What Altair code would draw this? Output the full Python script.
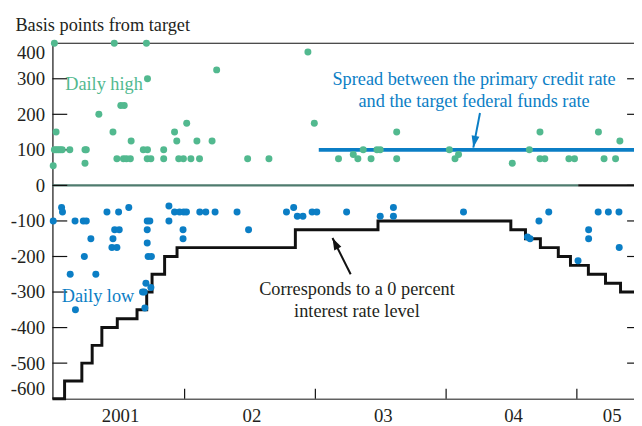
import altair as alt
import pandas as pd

# ---------------- data (x in decimal years, y in basis points from target) -------------
high_x = [2001.004, 2001.017, 2000.995, 2001.004, 2001.019, 2001.034, 2001.049, 2001.064,
          2001.122, 2001.238, 2001.248, 2001.238, 2001.344, 2001.462, 2001.452, 2001.482,
          2001.532, 2001.555, 2001.585, 2001.512, 2001.538, 2001.591, 2001.708, 2001.716,
          2001.684, 2001.716, 2001.714, 2001.742, 2001.840, 2001.840, 2001.923, 2001.940,
          2002.016, 2001.955, 2001.991, 2002.048, 2002.094, 2002.114, 2002.210, 2002.245,
          2002.482, 2002.645, 2002.943, 2002.992, 2003.177, 2003.290, 2003.325, 2003.366,
          2003.426, 2003.471, 2003.496, 2003.622, 2003.622, 2004.025, 2004.068, 2004.095,
          2004.506, 2004.637, 2004.718, 2004.718, 2004.755, 2004.939, 2004.982, 2005.165,
          2005.208, 2005.296, 2005.329]
high_y = [400, 150, 55, 100, 100, 100, 100, 100,
          100, 100, 100, 62, 200, 400, 150, 75,
          75, 75, 75, 225, 225, 125, 400, 300,
          100, 100, 75, 75, 100, 75, 150, 125,
          175, 75, 75, 75, 125, 75, 125, 325,
          75, 75, 375, 175, 75, 87, 75, 100,
          75, 100, 100, 150, 75, 100, 75, 87,
          62, 100, 150, 75, 75, 75, 75, 150,
          75, 75, 125]

low_x = [2000.995, 2001.059, 2001.066, 2001.125, 2001.162, 2001.165, 2001.225, 2001.248,
         2001.233, 2001.283, 2001.321, 2001.406, 2001.452, 2001.444, 2001.482, 2001.465,
         2001.500, 2001.495, 2001.573, 2001.696, 2001.678, 2001.691, 2001.704, 2001.742,
         2001.714, 2001.734, 2001.714, 2001.714, 2001.721, 2001.746, 2001.880, 2001.880,
         2001.923, 2001.961, 2001.993, 2002.014, 2001.988, 2001.988, 2002.116, 2002.162,
         2002.233, 2002.401, 2002.489, 2002.779, 2002.834, 2002.862, 2002.905, 2002.975,
         2003.011, 2003.239, 2003.496, 2003.597, 2003.597, 2004.133, 2004.622, 2004.642,
         2004.710, 2004.785, 2005.009, 2005.090, 2005.090, 2005.163, 2005.241, 2005.322,
         2005.324]
low_y = [-100, -62, -75, -250, -100, -350, -100, -100,
         -200, -150, -250, -75, -150, -175, -175, -125,
         -125, -75, -62, -345, -300, -300, -275, -287,
         -100, -100, -125, -162, -200, -200, -58, -100,
         -75, -75, -75, -75, -125, -150, -75, -75,
         -75, -75, -125, -75, -62, -87, -87, -75,
         -75, -75, -87, -62, -87, -75, -145, -150,
         -100, -75, -212, -125, -150, -75, -75, -75,
         -175]

# level corresponding to a 0 percent interest rate (minus the target rate)
step_x = [2000.989, 2001.082, 2001.214, 2001.293, 2001.367, 2001.485, 2001.636, 2001.710,
          2001.751, 2001.847, 2001.942, 2002.847, 2003.479, 2004.495, 2004.607, 2004.721,
          2004.858, 2004.951, 2005.088, 2005.219, 2005.334, 2005.437]
step_y = [-600, -550, -500, -450, -400, -375, -350, -300,
          -250, -200, -175, -125, -100, -125, -150, -175,
          -200, -225, -250, -275, -300, -300]

# spread between the primary credit rate and the target
spread_x = [2003.026, 2005.437]
spread_y = [100, 100]

zero_x = [2000.989, 2005.010]
zero_x2 = [2005.010, 2005.437]
zero_col = ["#4e7b6e", "#111111"]

year_ticks = [2002, 2003, 2004, 2005]
year_label_x = [2001.51, 2002.515, 2003.52, 2004.516, 2005.27]
year_labels = ["2001", "02", "03", "04", "05"]
y_ticks = [-500, -400, -300, -200, -100, 0, 100, 200, 300]

# annotations
ann_text = ["Daily high", "Daily low"]
ann_x = [2001.087, 2001.060]
ann_y = [269, -327]
ann_col = ["#52b98f", "#0b7ec5"]

spread_lines = ["Spread between the primary credit rate", "and the target federal funds rate"]
spread_lx = [2004.214, 2004.214]
spread_ly = [282, 221]

zero_lines = ["Corresponds to a 0 percent", "interest rate level"]
zero_lx = [2003.318, 2003.318]
zero_ly = [-308, -370]

arrow_x = [2004.259, 2003.270]
arrow_y = [203.6, -250]
arrow_x2 = [2004.208, 2003.131]
arrow_y2 = [106.4, -148]
arrow_angle = [190.8, 333.5]
arrow_col = ["#0b7ec5", "#111111"]

# ---------------- chart -------------
W, H = 589, 360
FONT = "Liberation Serif"
FS = 18.5
TXT = "#231f20"
GREEN = "#52b98f"
BLUE = "#0b7ec5"

xs = alt.Scale(domain=[2000.989, 2005.437], nice=False, zero=False)
ys = alt.Scale(domain=[-600, 400], nice=False, zero=False)
xaxis = alt.Axis(labels=False, ticks=False, grid=False, title=None, domain=True,
                 domainColor="#111111", domainWidth=1)
yaxis = alt.Axis(values=list(range(-600, 401, 100)), ticks=False, tickSize=0, grid=False,
                 domainColor="#111111", domainWidth=1.2, labelFont=FONT, labelFontSize=19,
                 labelColor=TXT, labelPadding=8, labelFlush=True,
                 labelExpr="'' + datum.value",
                 title="Basis points from target", titleAngle=0, titleAlign="left",
                 titleBaseline="alphabetic", titleX=-38, titleY=-13, titleFont=FONT,
                 titleFontSize=FS, titleFontWeight="normal", titleColor=TXT)


def X(f="x"):
    return alt.X(f"{f}:Q", scale=xs, axis=xaxis)


def Y(f="y"):
    return alt.Y(f"{f}:Q", scale=ys, axis=yaxis)


high_df = pd.DataFrame({"x": high_x, "y": high_y})
low_df = pd.DataFrame({"x": low_x, "y": low_y})
step_df = pd.DataFrame({"x": step_x, "y": step_y})
spread_df = pd.DataFrame({"x": spread_x, "y": spread_y})
zero_df = pd.DataFrame({"x": zero_x, "x2": zero_x2, "y": [0, 0], "c": zero_col})
ytick_df = pd.DataFrame({"y": y_ticks})
top_df = pd.DataFrame({"y": [400]})
xtick_df = pd.DataFrame({"x": year_ticks})
ylab_df = pd.DataFrame({"x": year_label_x, "t": year_labels})
ann_df = pd.DataFrame({"x": ann_x, "y": ann_y, "t": ann_text, "c": ann_col})
sp_df = pd.DataFrame({"x": spread_lx, "y": spread_ly, "t": spread_lines})
zl_df = pd.DataFrame({"x": zero_lx, "y": zero_ly, "t": zero_lines})
arr_df = pd.DataFrame({"x": arrow_x, "y": arrow_y, "x2": arrow_x2, "y2": arrow_y2,
                       "a": arrow_angle, "c": arrow_col})

zero_rule = alt.Chart(zero_df).mark_rule(strokeWidth=2.2).encode(
    x=X(), x2="x2:Q", y=Y(), color=alt.Color("c:N", scale=None))
top_rule = alt.Chart(top_df).mark_rule(color="#111111", strokeWidth=1.2).encode(
    y=Y(), x=alt.value(0), x2=alt.value(W))
left_ticks = alt.Chart(ytick_df).mark_rule(color="#111111", strokeWidth=1.2).encode(
    y=Y(), x=alt.value(0), x2=alt.value(15))
right_ticks = alt.Chart(ytick_df).mark_rule(color="#111111", strokeWidth=1.2).encode(
    y=Y(), x=alt.value(W - 7), x2=alt.value(W))
x_ticks = alt.Chart(xtick_df).mark_rule(color="#111111", strokeWidth=1.2).encode(
    x=X(), y=alt.value(H - 10), y2=alt.value(H))
year_text = alt.Chart(ylab_df).mark_text(font=FONT, fontSize=19, color=TXT,
                                         baseline="alphabetic", align="center").encode(
    x=X(), y=alt.value(H + 24), text="t:N")

spread_line = alt.Chart(spread_df).mark_line(color=BLUE, strokeWidth=4).encode(x=X(), y=Y())
step_line = alt.Chart(step_df).mark_line(color="#111111", strokeWidth=3,
                                         interpolate="step-after").encode(x=X(), y=Y())
high_pts = alt.Chart(high_df).mark_circle(color=GREEN, size=50, opacity=1).encode(x=X(), y=Y())
low_pts = alt.Chart(low_df).mark_circle(color=BLUE, size=50, opacity=1).encode(x=X(), y=Y())

ann = alt.Chart(ann_df).mark_text(font=FONT, fontSize=FS, align="left",
                                  baseline="alphabetic").encode(
    x=X(), y=Y(), text="t:N", color=alt.Color("c:N", scale=None))
sp_text = alt.Chart(sp_df).mark_text(font=FONT, fontSize=FS, align="center",
                                     baseline="alphabetic", color=BLUE).encode(
    x=X(), y=Y(), text="t:N")
zl_text = alt.Chart(zl_df).mark_text(font=FONT, fontSize=FS, align="center",
                                     baseline="alphabetic", color=TXT).encode(
    x=X(), y=Y(), text="t:N")
arr_shaft = alt.Chart(arr_df).mark_rule(strokeWidth=2).encode(
    x=X(), y=Y(), x2="x2:Q", y2="y2:Q", color=alt.Color("c:N", scale=None))
arr_head = alt.Chart(arr_df).mark_point(shape="M0,0L0.8,2.4L-0.8,2.4Z", filled=True,
                                        size=100, opacity=1).encode(
    x=X("x2"), y=Y("y2"), angle=alt.Angle("a:Q", scale=None),
    color=alt.Color("c:N", scale=None))

chart = alt.layer(
    zero_rule, top_rule, left_ticks, right_ticks, x_ticks, year_text,
    spread_line, step_line, high_pts, low_pts, ann, sp_text, zl_text, arr_shaft, arr_head
).properties(
    width=W, height=H,
    padding={"left": 45, "top": 33, "right": 0, "bottom": 25},
    autosize=alt.AutoSizeParams(type="none"),
    background="white",
).configure_view(stroke=None)

chart.save("out.html", embed_options={"renderer": "svg", "actions": False})
